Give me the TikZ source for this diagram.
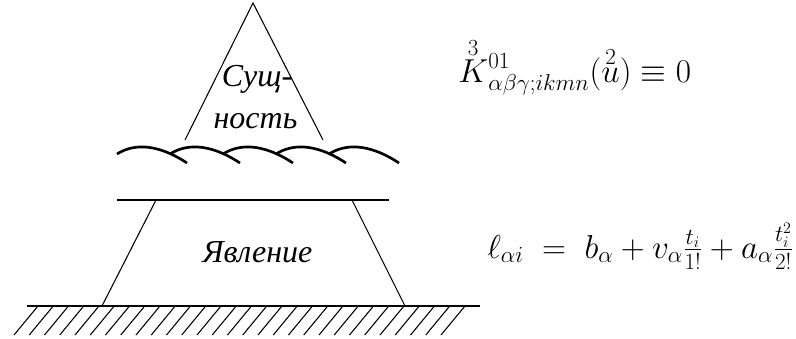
\documentclass[tikz,border=0pt]{standalone}
\usepackage{amsmath}
\usepackage{fontspec}
\newfontfamily\cyrfont{Liberation Serif}[ItalicFont={Liberation Serif Italic}]
\newcommand{\ovmarkk}[2]{\mathord{\smash{\overset{\raisebox{-3pt}{$\scriptstyle #1$}}{#2}}\vphantom{#2}}}
\begin{document}
\begin{tikzpicture}[x=0.75pt,y=-0.75pt,
  thinline/.style={line width=0.8pt},
  thickline/.style={line width=1.5pt},
  hatchline/.style={line width=0.8pt},
  wave/.style={line width=2pt},
  lbl/.style={font=\fontsize{24}{29}\selectfont\cyrfont\itshape, inner sep=0pt, anchor=base},
  formula/.style={font=\fontsize{23}{28}\selectfont, inner sep=0pt, anchor=base west}]
\useasboundingbox (0,0) rectangle (796,339);
% triangle (essence)
\coordinate (apex) at (253,3);
\coordinate (tl) at (185,140);
\coordinate (tr) at (323,140);
\draw[thinline] (tl) -- (apex) -- (tr);
% waves
\foreach \s/\n in {117/1,170/2,223/3,276/4,329/5}{
  \coordinate (ws\n) at (\s,154);
  \coordinate (we\n) at ({\s+70},163);
  \draw[wave] (ws\n) .. controls ({\s+15},144.5) and ({\s+38},142) .. (we\n);
}
% trapezoid (phenomenon)
\coordinate (topL) at (117,200);
\coordinate (topR) at (389,200);
\coordinate (ptl) at (156,200);
\coordinate (ptr) at (352,200);
\coordinate (pbl) at (102,306);
\coordinate (pbr) at (405,306);
\draw[thickline] (topL) -- (topR);
\draw[thinline] (ptl) -- (pbl);
\draw[thinline] (ptr) -- (pbr);
% ground
\coordinate (gL) at (27,306);
\coordinate (gR) at (480,306);
\draw[thickline] (gL) -- (gR);
\foreach \k in {0,...,28}{
  \draw[hatchline] ({14+15.25*\k},335) -- ({38+15.25*\k},306);
}
% labels
\node[lbl] (sush) at (257,86) {Сущ-};
\node[lbl] (nost) at (255.5,128) {ность};
\node[lbl] (yavl) at (257.5,262) {Явление};
% formulas
\node[formula] (kform) at (458,82) {$\ovmarkk{3}{K}^{01}_{\alpha\beta\gamma;ikmn}(\ovmarkk{2}{u})\equiv 0$};
\node[formula] (lform) at (487,258) {$\ell_{\alpha i}\ =\ b_\alpha+v_\alpha\frac{t_i}{1!}+a_\alpha\frac{t_i^2}{2!}$};
\end{tikzpicture}
\end{document}
